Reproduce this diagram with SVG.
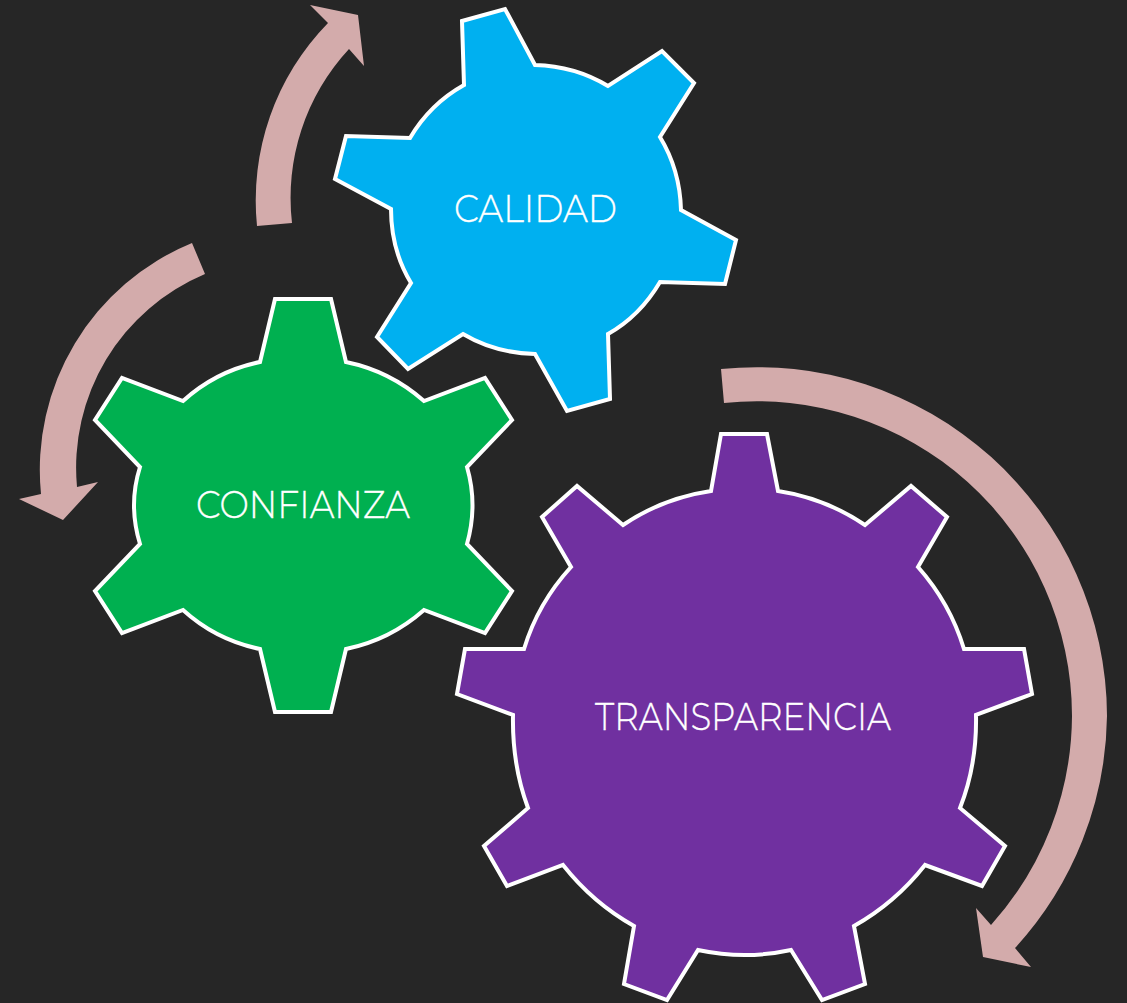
<svg xmlns="http://www.w3.org/2000/svg" width="1127" height="1003" viewBox="0 0 1127 1003">
<style>
.gear{stroke:#fff;stroke-width:4;stroke-linejoin:miter}
.arrow{fill:#d3abab}
text{font-family:"Montserrat","Century Gothic","Open Sans","Liberation Sans",sans-serif;font-weight:300;fill:#fff;font-size:37px;text-anchor:middle;stroke:#fff;stroke-width:.3}
</style>
<rect width="1127" height="1003" fill="#262626"/>
<g id="connectors">
<path class="arrow" d="M257 226A254 254 0 0 1 328 23L310 5L358 15L364 66L349 49A219 219 0 0 0 292 223Z"/>
<path class="arrow" d="M192 243L205 274A210 210 0 0 0 77 487L98 482L63 520L19 499L41 494A245 245 0 0 1 192 243Z"/>
<path class="arrow" d="M721 369A350 350 0 0 1 1107 716A350 350 0 0 1 1015 948L1031 967L983 957L976 908L991 925A315 315 0 0 0 1072 716A315 315 0 0 0 724 403Z"/>
</g>
<g id="calidad">
<path class="gear" fill="#00b0f0" d="M462 21L505 9L535 65Q575 66 608 86L662 51L694 83L660 137Q680 170 681 210L736 240L725 284L660 282Q640 316 608 334L610 399L567 411L535 354Q495 353 463 334L408 369L377 337L411 283Q391 250 391 209L335 179L346 136L410 138Q430 104 464 85Z"/>
<text x="535.500" y="222" textLength="163" lengthAdjust="spacingAndGlyphs">CALIDAD</text>
</g>
<g id="confianza">
<path class="gear" fill="#00b050" d="M275 299H331L346 362Q390 371 424 401L485 378L512 420L467 467Q478 505 467 544L512 591L485 633L424 610Q390 640 346 649L331 712H275L260 649Q216 640 183 610L122 633L95 591L140 544Q128 505 140 467L95 420L122 378L183 401Q216 371 260 362Z"/>
<text x="303" y="518" textLength="214" lengthAdjust="spacingAndGlyphs">CONFIANZA</text>
</g>
<g id="transparencia">
<path class="gear" fill="#7030a0" d="M721 434H767L778 491Q825 498 865 525L911 486L947 517L918 567Q950 603 964 649H1024L1032 694L976 715Q977 765 960 808L1005 846L982 886L925 865Q895 903 854 926L865 984L822 1000L791 950Q745 960 698 950L667 1000L624 984L634 926Q593 903 563 865L507 886L484 846L528 808Q512 765 513 715L457 694L465 649H524Q538 603 571 567L542 517L577 486L623 525Q663 498 711 491Z"/>
<text x="743" y="730" textLength="296" lengthAdjust="spacingAndGlyphs">TRANSPARENCIA</text>
</g>
</svg>
